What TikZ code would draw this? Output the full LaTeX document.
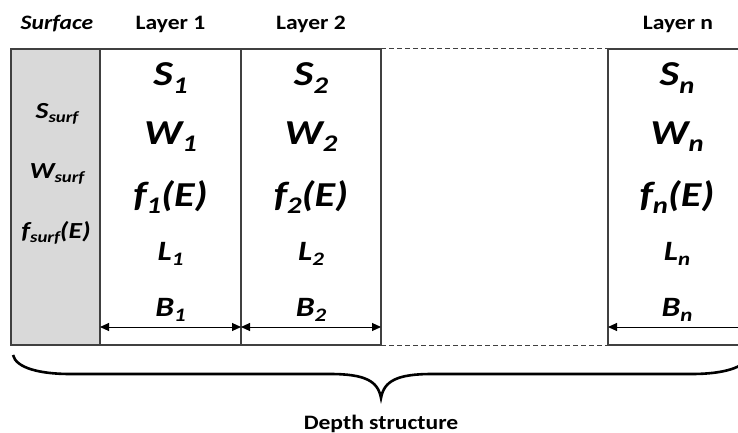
\documentclass[tikz,border=0pt]{standalone}
\usepackage{fontspec}
\usepackage{graphicx}
\setmainfont{Carlito}
\usetikzlibrary{arrows.meta}
\definecolor{surfgray}{RGB}{217,217,217}
\definecolor{linegray}{RGB}{64,64,64}
\newcommand\sbs[1]{\raisebox{-0.2em}{\scalebox{0.68}{#1}}}
\newcommand\xs[1]{\scalebox{1.2}[1]{#1}}
\newcommand\xh[1]{\scalebox{1.15}[1]{#1}}
\tikzset{
  box/.style={draw=linegray, line width=1.1pt},
  dashline/.style={draw=linegray, line width=1pt, dash pattern=on 5pt off 3pt},
  dim/.style={draw=black, line width=1pt, {Triangle[length=9pt,width=8pt]}-{Triangle[length=9pt,width=8pt]}},
  dimone/.style={draw=black, line width=1pt, -{Triangle[length=9pt,width=8pt]}},
  head/.style={anchor=base, inner sep=0pt, font=\fontsize{20.5}{24}\selectfont\bfseries},
  big/.style={anchor=base, inner sep=0pt, font=\fontsize{35}{40}\selectfont\bfseries\itshape},
  mid/.style={anchor=base, inner sep=0pt, font=\fontsize{28}{33}\selectfont\bfseries\itshape},
  small/.style={anchor=base, inner sep=0pt, font=\fontsize{23}{27}\selectfont\bfseries\itshape},
  bracestyle/.style={draw=black, line width=2.6pt},
}
\begin{document}
\begin{tikzpicture}[x=1pt,y=-1pt]
\useasboundingbox (0,0) rectangle (738,433);
\clip (0,0) rectangle (738,433);
% boxes
\coordinate (s0) at (11,49);
\coordinate (a0) at (100,49);
\coordinate (b0) at (241,49);
\coordinate (c0) at (381,49);
\coordinate (n0) at (608,49);
\coordinate (e0) at (738,49);
\coordinate (s1) at (11,345);
\coordinate (a1) at (100,345);
\coordinate (b1) at (241,345);
\coordinate (c1) at (381,345);
\coordinate (n1) at (608,345);
\coordinate (e1) at (738,345);
\fill[surfgray] (s0) rectangle (a1);
\draw[box] (s0) rectangle (a1);
\draw[box] (a0) rectangle (b1);
\draw[box] (b0) rectangle (c1);
\draw[box] (e0) -- (n0) -- (n1) -- (e1);
\draw[dashline] (c0) -- (n0);
\draw[dashline] (c1) -- (n1);
% dimension arrows
\coordinate (da) at (100,327);
\coordinate (db) at (241,327);
\coordinate (dc) at (381,327);
\coordinate (dn) at (608,327);
\coordinate (de) at (740,327);
\draw[dim] (da) -- (db);
\draw[dim] (db) -- (dc);
\draw[dimone] (de) -- (dn);
% headers
\node[head] (hs) at (57,30) {\xh{\itshape Surface}};
\node[head] (h1) at (170.5,30) {\xh{Layer 1}};
\node[head] (h2) at (311,30) {\xh{Layer 2}};
\node[head] (hn) at (678,30) {\xh{Layer n}};
% surface column
\node[small] (ss) at (57,118) {\xs{S\sbs{surf}}};
\node[small] (ws) at (57,178) {\xs{W\sbs{surf}}};
\node[small] (fs) at (56,238) {\xs{f\sbs{surf}(E)}};
% layer 1
\node[big] (s1t) at (170.5,86) {\xs{S\sbs{1}}};
\node[big] (w1t) at (170.5,144) {\xs{W\sbs{1}}};
\node[big] (f1t) at (170.5,206) {\xs{f\sbs{1}(E)}};
\node[mid] (l1t) at (170.5,260) {\xs{L\sbs{1}}};
\node[mid] (b1t) at (170.5,316) {\xs{B\sbs{1}}};
% layer 2
\node[big] (s2t) at (311,86) {\xs{S\sbs{2}}};
\node[big] (w2t) at (311,144) {\xs{W\sbs{2}}};
\node[big] (f2t) at (311,206) {\xs{f\sbs{2}(E)}};
\node[mid] (l2t) at (311,260) {\xs{L\sbs{2}}};
\node[mid] (b2t) at (311,316) {\xs{B\sbs{2}}};
% layer n
\node[big] (snt) at (677,86) {\xs{S\sbs{n}}};
\node[big] (wnt) at (677,144) {\xs{W\sbs{n}}};
\node[big] (fnt) at (677,206) {\xs{f\sbs{n}(E)}};
\node[mid] (lnt) at (677,260) {\xs{L\sbs{n}}};
\node[mid] (bnt) at (677,316) {\xs{B\sbs{n}}};
% brace
\draw[bracestyle] (13,355) .. controls (16,368) and (40,374) .. (70,374) -- (330,374)
  .. controls (365,374) and (378,381) .. (381,398)
  .. controls (384,381) and (397,374) .. (432,374) -- (692,374)
  .. controls (722,374) and (746,368) .. (749,355);
\node[head] (depth) at (381,429) {\xh{Depth structure}};
\end{tikzpicture}
\end{document}
